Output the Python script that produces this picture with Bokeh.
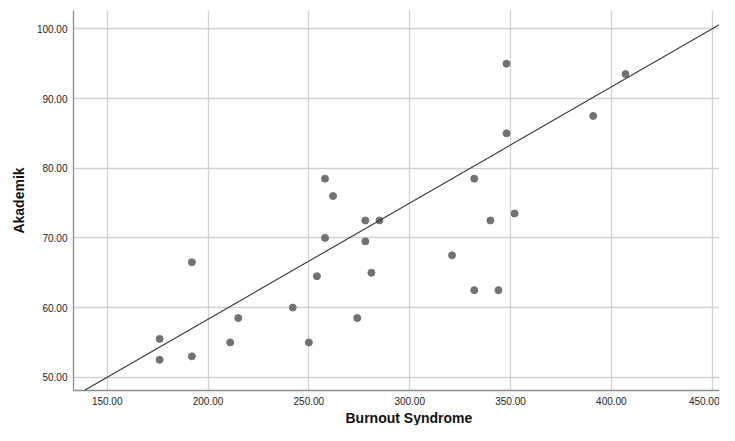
from bokeh.plotting import figure
from bokeh.models import FixedTicker, PrintfTickFormatter, Range1d, Slope, ColumnDataSource, Title
from bokeh.embed import file_html
from bokeh.resources import INLINE

# Data
burnout = [176, 176, 192, 192, 211, 215, 242, 250, 254, 258, 258, 262, 274, 278,
           278, 281, 285, 321, 332, 332, 340, 344, 348, 348, 352, 391, 407]
akademik = [55.5, 52.5, 66.5, 53.0, 55.0, 58.5, 60.0, 55.0, 64.5, 78.5, 70.0, 76.0,
            58.5, 72.5, 69.5, 65.0, 72.5, 67.5, 78.5, 62.5, 72.5, 62.5, 95.0, 85.0,
            73.5, 87.5, 93.5]

# Fit line drawn in the reference (passes through (150, 50) and (450, 100))
fit_intercept = 25.0
fit_slope = 1.0 / 6.0

x_ticks = [150, 200, 250, 300, 350, 400, 450]
y_ticks = [50, 60, 70, 80, 90, 100]

x_label = "Burnout Syndrome"
y_label = "Akademik"

src = ColumnDataSource(dict(x=burnout, y=akademik))

p = figure(width=719, height=425, output_backend="svg", toolbar_location=None,
           x_range=Range1d(133.3, 453.6), y_range=Range1d(48.10, 102.63),
           min_border_left=73, min_border_right=0, min_border_top=10, min_border_bottom=10)
p.outline_line_color = None
p.background_fill_color = "white"
p.border_fill_color = "white"

for ax in (p.xaxis[0], p.yaxis[0]):
    ax.major_tick_line_color = None
    ax.minor_tick_line_color = None
    ax.axis_line_color = "#8c8c8c"
    ax.axis_line_width = 1.3
    ax.major_label_text_font = "Liberation Sans"
    ax.major_label_text_font_size = "10px"
    ax.major_label_text_color = "#222222"
    ax.axis_label_text_font = "Liberation Sans"
    ax.axis_label_text_font_style = "bold"
    ax.axis_label_text_font_size = "14px"
    ax.axis_label_text_color = "#111111"
    ax.formatter = PrintfTickFormatter(format="%.2f")

p.xaxis[0].ticker = FixedTicker(ticks=x_ticks)
p.yaxis[0].ticker = FixedTicker(ticks=y_ticks)
p.yaxis[0].axis_label = y_label
p.xaxis[0].major_label_standoff = 0
p.yaxis[0].major_label_standoff = 0
p.yaxis[0].axis_label_standoff = 7

p.add_layout(Title(text=x_label, align="left", offset=272, standoff=0,
                   text_font="Liberation Sans", text_font_style="bold",
                   text_font_size="14px", text_color="#111111"), "below")

for g in (p.xgrid[0], p.ygrid[0]):
    g.grid_line_color = "#d2d2d2"
    g.grid_line_width = 1.3

p.add_layout(Slope(gradient=fit_slope, y_intercept=fit_intercept,
                   line_color="#333333", line_width=1.1))

p.scatter("x", "y", source=src, size=7, fill_color="#727272", line_color="#727272")

open("out.html", "w").write(file_html(p, INLINE))
